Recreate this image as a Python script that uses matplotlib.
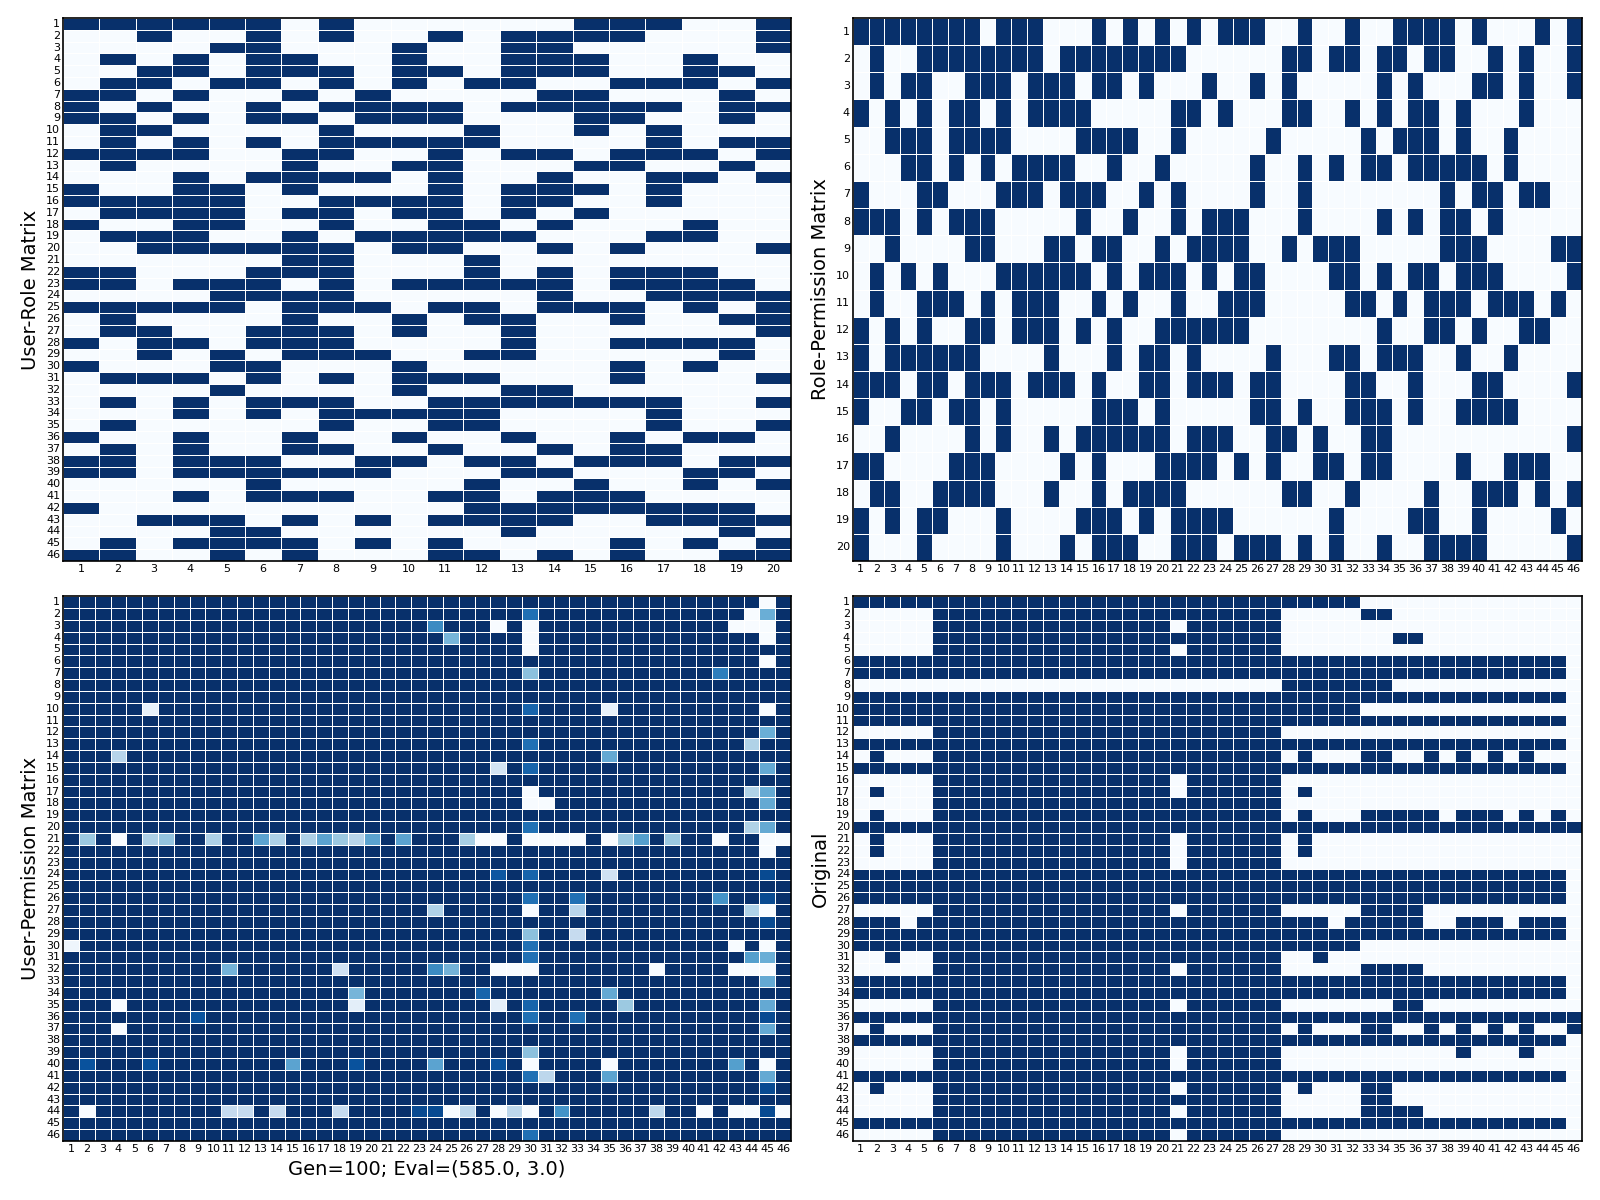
import numpy as np
import matplotlib
matplotlib.use('Agg')
import matplotlib.pyplot as plt
import seaborn as sns

# dark cells per row, written as runs of column numbers (1-based)
user_role_rows = [
    "1-6,8,15-17,20", "3,6,8,11,13-16,20", "5,6,10,13,14,20", "2,4,6,7,10,13-15,18",
    "3,4,6-8,10,11,13-15,18,19", "2,3,5,6,8,10,12,13,16-18,20", "1,2,4,7,9,14,15,19",
    "1,3,6,8-11,13-17,19,20", "1,2,4,6,7,9-11,15,16,19", "2,3,8,12,15,17",
    "2,4,6,8-12,17,19,20", "1-4,7,8,11,13,14,16-18,20", "2,7,10,11,15,16,19",
    "4,6-9,11,14,17,18,20", "1,4,5,7,11,13-15,17", "1-5,8-11,13,14,17",
    "2-5,7,8,10,11,13,15", "1,4,5,8,11,12,14,18", "2-4,7,9-13,17,18",
    "3-8,10,11,14,16,20", "7,8,12", "1,2,6-8,12,14,16-18", "1,2,4-6,8,10-14,16-19",
    "5-8,14,17-20", "1-5,7-9,11,12,14-16,18,20", "2,7,10,12,13,16,19,20",
    "2,3,6-8,10,13,20", "1,3,4,6-8,13,16-19", "3,5,7-9,12,13,19", "1,5,6,10,16,18",
    "2-4,6,8,10-12,16,20", "5,10,13,14", "2,4,6-8,11-17,20", "4,6,8-12,17",
    "2,8,11,12,17,20", "1,4,7,10,13,16,18,19", "2,4,7,8,11,14,16,17",
    "1,2,4-6,9,10,12,13,15-17,19,20", "1,2,4-9,13,14,18,19", "6,12,15,18,20",
    "4,6-8,11,12,14-16", "1,12-19", "3-5,7,9,11-14,17-20", "5,6,13,19",
    "2,4-7,9,11,16,18,20", "1,2,5,7,11,12,14,16,19,20",
]

role_perm_rows = [
    "1-8,10-12,16,18,20,22,24-26,29,32,35-38,40,44,46",
    "2,5-12,14-21,28,29,31,32,34,35,37,38,41,43,46",
    "2,4,5,8-10,12-14,16,17,19,23,26,28,34,36,40,41,43,46",
    "1,3,5,7,8,10,12-15,21,22,24,28,29,32,34,36,37,39,43",
    "3-5,7-10,15-18,21,27,33,35-37,39,42",
    "4,5,7,9,11-14,17,20,26,29,31,33,34,36-40,42",
    "1,5,6,10-12,14-16,19,21,26,29,38,40,41,43,44",
    "1-3,5,7-9,15,18,21,23-25,29,34,36,38,39,41",
    "3,8,9,13,14,16,17,20,22-25,28,30-32,38-40,45,46",
    "2,4,6,10-15,17,19-21,23,25,26,31,32,34,36,37,39-41,46",
    "2,5-7,9,11-13,16,18,21,24-26,32,33,35,37-39,41-43,45",
    "1,3,5,8,9,11-13,15,17,20-25,34,37,38,40,43,44",
    "1,3-8,13,17,19,20,22,27,31,32,34-36,39,42",
    "1-3,5,6,8-10,12-14,16,19,20,22-24,26,27,32,33,36,40,41,46",
    "1,4,5,7,8,10,16-18,20,26,27,29,32-34,36,39-42",
    "3,8,10,13,15-20,22-24,27,28,30,33,34,46",
    "1,2,7-9,14,16,20-23,25,27,30,31,33,34,39,42-44",
    "2,3,6-9,13,16,18-21,28,29,32,37,40-42,44,46",
    "1,3,5,6,10,15-17,19,21-24,31,36,37,40,45",
    "1,5,10,14,16-18,21-23,25-27,29,31,34,37-40,46",
]

original_rows = [
    "1-32", "6-27,33,34", "6-20,22-27", "6-27,35,36", "6-20,22-27", "1-45", "1-45",
    "28-34", "1-45", "1-32", "1-45", "6-27", "1-45", "2,6-27,29,33,34,37,39,41,43",
    "1-45", "6-20,22-27", "2,6-20,22-27,29", "6-27", "2,6-27,29,33-37,39-41,43,45",
    "1-46", "2,6-20,22-27,29", "2,6-20,22-27,29", "6-20,22-27", "1-45", "1-45", "1-45",
    "6-20,22-27,33-36", "1-3,5-30,32-36,39-41,43-45", "1-45", "1-32", "3,6-27,30",
    "6-20,22-27,33-36", "1-45", "1-45", "6-20,22-27,35,36", "1-46",
    "2,6-27,29,33,34,37,39,41,43,46", "1-45", "6-20,22-27,39,43", "6-20,22-27", "1-45",
    "2,6-20,22-27,29,33,34", "6-27,33,34", "6-20,22-27,33-36", "1-45", "6-20,22-27",
]

# user-permission: all cells full except these (row, col, value)
user_perm_cells = [
    (1, 45, 0), (2, 30, 0.75), (2, 44, 0), (2, 45, 0.5),
    (3, 24, 0.65), (3, 28, 0), (3, 30, 0), (3, 43, 0), (3, 44, 0), (3, 45, 0),
    (4, 25, 0.47), (4, 30, 0), (4, 45, 0), (5, 30, 0), (6, 45, 0),
    (7, 30, 0.42), (7, 42, 0.7),
    (10, 6, 0.08), (10, 30, 0.8), (10, 35, 0.08), (10, 45, 0),
    (12, 45, 0.5), (13, 30, 0.75), (13, 44, 0.32), (14, 4, 0.3), (14, 35, 0.52),
    (15, 28, 0.18), (15, 30, 0.8), (15, 45, 0.52),
    (17, 30, 0), (17, 44, 0.32), (17, 45, 0.52),
    (18, 30, 0), (18, 31, 0), (18, 45, 0.52),
    (20, 30, 0.75), (20, 44, 0.32), (20, 45, 0.52),
    (21, 2, 0.38), (21, 4, 0), (21, 6, 0.33), (21, 7, 0.4), (21, 10, 0.33), (21, 13, 0.55),
    (21, 14, 0.33), (21, 16, 0.33), (21, 17, 0.55), (21, 18, 0.38), (21, 19, 0.3),
    (21, 20, 0.55), (21, 22, 0.55), (21, 26, 0.35), (21, 27, 0), (21, 28, 0), (21, 30, 0),
    (21, 31, 0), (21, 32, 0), (21, 33, 0), (21, 35, 0), (21, 36, 0.38), (21, 37, 0.57),
    (21, 39, 0.38), (21, 42, 0), (21, 45, 0), (21, 46, 0),
    (22, 45, 0),
    (24, 28, 0.85), (24, 30, 0.8), (24, 35, 0.2), (24, 45, 0.9),
    (26, 30, 0.75), (26, 33, 0.75), (26, 42, 0.62), (26, 45, 0.9),
    (27, 24, 0.32), (27, 30, 0), (27, 33, 0.3), (27, 44, 0.32), (27, 45, 0),
    (28, 45, 0.9), (29, 30, 0.42), (29, 33, 0.25),
    (30, 1, 0.05), (30, 30, 0.75), (30, 43, 0), (30, 45, 0),
    (31, 30, 0.75), (31, 44, 0.57), (31, 45, 0.5),
    (32, 11, 0.48), (32, 18, 0.2), (32, 24, 0.65), (32, 25, 0.48), (32, 28, 0), (32, 29, 0),
    (32, 30, 0), (32, 38, 0), (32, 43, 0), (32, 44, 0), (32, 45, 0),
    (33, 45, 0.52), (34, 19, 0.47), (34, 27, 0.8), (34, 35, 0.52),
    (35, 4, 0), (35, 19, 0.1), (35, 28, 0.1), (35, 30, 0.8), (35, 36, 0.38), (35, 45, 0.52),
    (36, 9, 0.87), (36, 30, 0.75), (36, 33, 0.75), (36, 45, 0.9),
    (37, 4, 0), (37, 45, 0.52), (39, 30, 0.42),
    (40, 2, 0.87), (40, 6, 0.87), (40, 15, 0.55), (40, 19, 0.87), (40, 24, 0.55),
    (40, 28, 0.87), (40, 30, 0), (40, 35, 0), (40, 43, 0.57), (40, 45, 0),
    (41, 30, 0.75), (41, 31, 0.28), (41, 35, 0.55), (41, 45, 0.52), (42, 45, 0.9),
    (44, 2, 0), (44, 11, 0.25), (44, 12, 0.25), (44, 14, 0.25), (44, 18, 0.25),
    (44, 23, 0.9), (44, 24, 0.9), (44, 25, 0), (44, 26, 0.28), (44, 28, 0), (44, 29, 0.28),
    (44, 30, 0), (44, 32, 0.62), (44, 38, 0.28), (44, 41, 0), (44, 43, 0), (44, 44, 0),
    (44, 45, 0.9), (44, 46, 0),
    (46, 30, 0.75),
]

n_users, n_roles, n_perms = 46, 20, 46


def parse_runs(s):
    cols = []
    for part in s.split(','):
        if '-' in part:
            a, b = part.split('-')
            cols.extend(range(int(a), int(b) + 1))
        else:
            cols.append(int(part))
    return cols


def build(rows, ncols):
    m = np.zeros((len(rows), ncols))
    for i, r in enumerate(rows):
        m[i, np.array(parse_runs(r)) - 1] = 1
    return m


UR = build(user_role_rows, n_roles)
RP = build(role_perm_rows, n_perms)
ORIG = build(original_rows, n_perms)
UP = np.ones((n_users, n_perms))
for r, c, v in user_perm_cells:
    UP[r - 1, c - 1] = v

fig = plt.figure(figsize=(16, 12), dpi=100)
panels = [
    (UR, [0.0394, 0.5325, 0.455, 0.4525], 'User-Role Matrix', None),
    (RP, [0.533, 0.5325, 0.4556, 0.4525], 'Role-Permission Matrix', None),
    (UP, [0.0394, 0.0492, 0.455, 0.454], 'User-Permission Matrix', 'Gen=100; Eval=(585.0, 3.0)'),
    (ORIG, [0.533, 0.0492, 0.4556, 0.454], 'Original', None),
]

for mat, pos, ylab, xlab in panels:
    ax = fig.add_axes(pos)
    sns.heatmap(mat, ax=ax, cmap='Blues', vmin=0, vmax=1, cbar=False,
                linewidths=0.6, linecolor='white',
                xticklabels=range(1, mat.shape[1] + 1),
                yticklabels=range(1, mat.shape[0] + 1))
    ax.tick_params(length=0, labelsize=8, pad=2)
    plt.setp(ax.get_yticklabels(), rotation=0)
    plt.setp(ax.get_xticklabels(), rotation=0)
    for sp in ax.spines.values():
        sp.set_visible(True)
        sp.set_color('black')
        sp.set_linewidth(1.2)
    ax.set_ylabel(ylab, fontsize=14)
    if xlab:
        ax.set_xlabel(xlab, fontsize=14)

plt.savefig('out.png', dpi=100)
